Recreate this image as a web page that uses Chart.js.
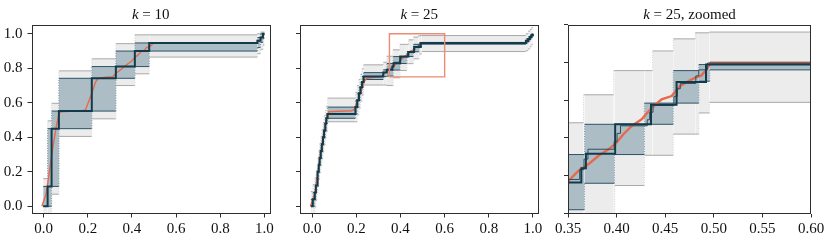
<!DOCTYPE html>
<html>
<head>
<meta charset="utf-8">
<script src="https://cdn.jsdelivr.net/npm/chart.js@4/dist/chart.umd.min.js"></script>
<style>
  html, body { margin: 0; padding: 0; background: #ffffff; }
  #wrap { position: relative; width: 830px; height: 242px; }
  canvas { position: absolute; left: 0; top: 0; }
</style>
</head>
<body>
<div id="wrap">
  <canvas id="c1" width="830" height="242"></canvas>
  <canvas id="c2" width="830" height="242"></canvas>
  <canvas id="c3" width="830" height="242"></canvas>
</div>
<script>
// ---------------- data ----------------
const panelTitles = ['k = 10', 'k = 25', 'k = 25, zoomed'];
const xTicksMain = [0, 0.2, 0.4, 0.6, 0.8, 1.0];
const yTicksMain = [0, 0.2, 0.4, 0.6, 0.8, 1.0];
const xTicksZoom = [0.35, 0.40, 0.45, 0.50, 0.55, 0.60];
const yTicksZoom = [0.75, 0.80, 0.85, 0.90, 0.95, 1.00];

// empirical CDF (red line)
const cdfX = [-0.008, 0.012, 0.027, 0.042, 0.057, 0.068, 0.076, 0.12, 0.178, 0.19,
  0.201, 0.221, 0.235, 0.246, 0.28, 0.314, 0.327, 0.3507, 0.3609, 0.3712,
  0.3814, 0.3917, 0.3985, 0.407, 0.4156, 0.4258, 0.4361, 0.4463, 0.4566, 0.4651,
  0.4736, 0.4805, 0.4873, 0.4924, 0.4969, 0.965, 0.975, 0.985, 0.993, 1.0];
const cdfY = [0, 0.074, 0.209, 0.345, 0.461, 0.53, 0.548, 0.551, 0.554, 0.56,
  0.597, 0.665, 0.72, 0.742, 0.748, 0.752, 0.771, 0.7934, 0.8066, 0.8154,
  0.8263, 0.8351, 0.8417, 0.8548, 0.8658, 0.8746, 0.8899, 0.9009, 0.9053, 0.9184,
  0.925, 0.9294, 0.9325, 0.9404, 0.9491, 0.9491, 0.958, 0.972, 0.986, 1.0];

// k = 10 : step estimate, inner band, outer band (all share k10StepX)
const k10StepX   = [-0.002, 0.018, 0.036, 0.069, 0.218, 0.327, 0.413, 0.478, 0.968, 0.982, 0.993];
const k10StepY   = [0, 0.115, 0.45, 0.552, 0.742, 0.81, 0.90, 0.947, 0.96, 0.978, 1.0];
const k10BandLo  = [0, 0, 0.115, 0.45, 0.552, 0.742, 0.81, 0.90, 0.92, 0.95, 0.975];
const k10BandHi  = [0.115, 0.45, 0.552, 0.742, 0.81, 0.90, 0.947, 0.947, 0.978, 1.0, 1.0];
const k10LightLo = [-0.045, -0.045, 0.07, 0.405, 0.507, 0.70, 0.768, 0.865, 0.885, 0.91, 0.935];
const k10LightHi = [0.16, 0.495, 0.597, 0.785, 0.855, 0.943, 0.994, 0.994, 1.0, 1.01, 1.01];

// k = 25 : step estimate
const k25StepX = [-0.006, 0.003, 0.012, 0.017, 0.022, 0.026, 0.03, 0.034, 0.039, 0.044,
  0.049, 0.054, 0.06, 0.064, 0.07, 0.196, 0.204, 0.212, 0.219, 0.226,
  0.233, 0.322, 0.338, 0.3637, 0.3684, 0.3985, 0.4354, 0.4617, 0.492, 0.968,
  0.978, 0.986, 0.993, 0.999];
const k25StepY = [0, 0.04, 0.08, 0.12, 0.16, 0.2, 0.24, 0.28, 0.32, 0.36,
  0.4, 0.44, 0.48, 0.51, 0.535, 0.575, 0.615, 0.655, 0.69, 0.72,
  0.752, 0.775, 0.791, 0.81, 0.829, 0.868, 0.894, 0.924, 0.947, 0.958,
  0.97, 0.982, 0.992, 1.0];
// k = 25 : finer step estimate (thin line, visible in the zoomed panel)
const k25FineX = [0.338, 0.362, 0.3665, 0.3705, 0.3975, 0.4005, 0.404, 0.4315, 0.434, 0.4375,
  0.459, 0.4625, 0.4655, 0.4815, 0.4845, 0.4935];
const k25FineY = [0.795, 0.808, 0.822, 0.835, 0.845, 0.856, 0.866, 0.874, 0.884, 0.893,
  0.905, 0.915, 0.922, 0.932, 0.94, 0.949];
// k = 25 : inner band
const k25BandX = [-0.006, 0.003, 0.012, 0.017, 0.022, 0.026, 0.03, 0.034, 0.039, 0.044,
  0.049, 0.054, 0.06, 0.064, 0.07, 0.196, 0.204, 0.212, 0.219, 0.226,
  0.233, 0.322, 0.338, 0.367, 0.3978, 0.4286, 0.4583, 0.4846, 0.4958, 0.968,
  0.978, 0.986, 0.993, 0.999];
const k25BandLo = [0, 0, 0.04, 0.08, 0.12, 0.16, 0.2, 0.24, 0.28, 0.32,
  0.36, 0.4, 0.44, 0.48, 0.51, 0.535, 0.575, 0.615, 0.655, 0.69,
  0.735, 0.752, 0.755, 0.79, 0.828, 0.868, 0.896, 0.925, 0.94, 0.947,
  0.958, 0.97, 0.982, 0.992];
const k25BandHi = [0.04, 0.08, 0.12, 0.16, 0.2, 0.24, 0.28, 0.32, 0.36, 0.4,
  0.44, 0.48, 0.51, 0.535, 0.575, 0.615, 0.655, 0.69, 0.72, 0.752,
  0.775, 0.791, 0.828, 0.868, 0.868, 0.896, 0.939, 0.947, 0.95, 0.97,
  0.982, 0.992, 1.0, 1.0];
// k = 25 : outer band
const k25LightX = [-0.006, 0.003, 0.012, 0.017, 0.022, 0.026, 0.03, 0.034, 0.039, 0.044,
  0.049, 0.054, 0.06, 0.064, 0.07, 0.196, 0.204, 0.212, 0.219, 0.226,
  0.233, 0.322, 0.338, 0.366, 0.367, 0.397, 0.398, 0.4286, 0.437, 0.4583,
  0.481, 0.4846, 0.4955, 0.968, 0.978, 0.986, 0.993, 0.999];
const k25LightLo = [-0.045, -0.045, -0.005, 0.035, 0.075, 0.115, 0.155, 0.195, 0.235, 0.275,
  0.315, 0.355, 0.395, 0.435, 0.49, 0.49, 0.53, 0.57, 0.61, 0.645,
  0.703, 0.703, 0.70, 0.70, 0.745, 0.745, 0.787, 0.827, 0.827, 0.855,
  0.855, 0.883, 0.897, 0.902, 0.913, 0.925, 0.937, 0.947];
const k25LightHi = [0.085, 0.125, 0.165, 0.205, 0.245, 0.285, 0.325, 0.365, 0.405, 0.445,
  0.485, 0.525, 0.555, 0.58, 0.627, 0.66, 0.70, 0.735, 0.765, 0.797,
  0.82, 0.835, 0.870, 0.907, 0.907, 0.939, 0.939, 0.939, 0.965, 0.981,
  0.989, 0.989, 0.990, 1.0, 1.015, 1.025, 1.035, 1.045];

// zoom window drawn on the k = 25 panel
const zoomBoxX = [0.35, 0.60];
const zoomBoxY = [0.75, 1.00];

// ---------------- helpers ----------------
const X_END = 1.0;
function stepPts(xs, ys, xEnd) {
  const pts = [];
  for (let i = 0; i < xs.length; i++) {
    if (i > 0) pts.push({x: xs[i], y: ys[i - 1]});
    pts.push({x: xs[i], y: ys[i]});
  }
  pts.push({x: xEnd, y: ys[ys.length - 1]});
  return pts;
}
function linePts(xs, ys) { return xs.map((x, i) => ({x: x, y: ys[i]})); }
function boxPts(bx, by) {
  return [{x: bx[0], y: by[0]}, {x: bx[1], y: by[0]}, {x: bx[1], y: by[1]},
          {x: bx[0], y: by[1]}, {x: bx[0], y: by[0]}];
}
const isVert = c => c.p0.parsed.x === c.p1.parsed.x;

const C = {
  lightFill: '#ececec', lightEdge: '#a9a9a9', lightVert: '#d2d2d2',
  bandFill: '#adbdc6', bandEdge: '#2c5366', bandVert: '#7a97a3',
  step: '#133a4a', fine: '#2a5060', red: '#e8684a', box: '#ee8b74', frame: '#2e2e2e', text: '#111111'
};
const SERIF = '"Liberation Serif", "DejaVu Serif", serif';

function bandSets(x, lo, hi, fillCol, edge, vert, orderBase) {
  const seg = { borderColor: c => isVert(c) ? vert : undefined,
                borderDash: c => isVert(c) ? [1, 1.5] : undefined };
  return [
    { data: stepPts(x, lo, X_END), fill: '+1', backgroundColor: fillCol, borderColor: edge,
      borderWidth: 1, order: orderBase + 1, segment: seg },
    { data: stepPts(x, hi, X_END), fill: false, borderColor: edge,
      borderWidth: 1, order: orderBase, segment: seg }
  ];
}

const framePlugin = {
  id: 'frameTitle',
  afterDatasetsDraw(chart, args, opts) {
    const ctx = chart.ctx, a = chart.chartArea;
    ctx.save();
    ctx.strokeStyle = C.frame; ctx.lineWidth = 1;
    ctx.strokeRect(Math.round(a.left) + 0.5, Math.round(a.top) + 0.5,
                   Math.round(a.right - a.left) - 1, Math.round(a.bottom - a.top) - 1);
    // title with math-italic k
    const t = opts.text || '';
    const first = t.charAt(0), rest = t.slice(1);
    const fItal = 'italic 15px ' + SERIF;
    const fNorm = '15px ' + SERIF;
    ctx.font = fItal; const w1 = ctx.measureText(first).width;
    ctx.font = fNorm; const w2 = ctx.measureText(rest).width;
    const cx = (a.left + a.right) / 2;
    const x0 = cx - (w1 + w2) / 2;
    ctx.fillStyle = C.text; ctx.textBaseline = 'alphabetic'; ctx.textAlign = 'left';
    ctx.font = fItal; ctx.fillText(first, x0, 18.5);
    ctx.font = fNorm; ctx.fillText(rest, x0 + w1, 18.5);
    ctx.restore();
  }
};

function makeChart(cfg) {
  const tickFont = { family: SERIF, size: 15 };
  const YW = 30, XH = 26;
  const datasets = [];
  datasets.push(...bandSets(cfg.lightX, cfg.lightLo, cfg.lightHi, C.lightFill, C.lightEdge, C.lightVert, 20));
  datasets.push(...bandSets(cfg.bandX, cfg.bandLo, cfg.bandHi, C.bandFill, C.bandEdge, C.bandVert, 10));
  datasets.push({ data: linePts(cdfX, cdfY), borderColor: C.red, borderWidth: cfg.redW, fill: false, order: 5 });
  if (cfg.fineX) {
    datasets.push({ data: stepPts(cfg.fineX, cfg.fineY, zoomBoxX[1]), borderColor: C.fine, borderWidth: 1,
                    fill: false, order: 4 });
  }
  datasets.push({ data: stepPts(cfg.stepX, cfg.stepY, X_END), borderColor: C.step, borderWidth: 2,
                  fill: false, order: 3, borderJoinStyle: 'miter' });
  if (cfg.box) {
    datasets.push({ data: boxPts(zoomBoxX, zoomBoxY), borderColor: C.box, borderWidth: 1.4,
                    fill: false, order: 1 });
  }
  return new Chart(document.getElementById(cfg.id), {
    type: 'line',
    data: { datasets: datasets },
    plugins: [framePlugin],
    options: {
      responsive: false, animation: false, devicePixelRatio: 1,
      elements: { point: { radius: 0, hoverRadius: 0 }, line: { tension: 0, capBezierPoints: false } },
      layout: { padding: { left: cfg.left - YW, right: 830 - cfg.right, top: 24.5, bottom: 242 - 213.5 - XH } },
      plugins: { legend: { display: false }, tooltip: { enabled: false }, title: { display: false },
                 frameTitle: { text: cfg.title } },
      events: [],
      scales: {
        x: {
          type: 'linear', min: cfg.xMin, max: cfg.xMax,
          afterFit: s => { s.height = XH; },
          afterBuildTicks: s => { s.ticks = cfg.xt.map(v => ({ value: v })); },
          border: { display: false },
          grid: { display: true, drawOnChartArea: false, drawTicks: true, tickLength: 4, color: C.frame, lineWidth: 1 },
          ticks: { autoSkip: false, maxRotation: 0, padding: 3, color: C.text, font: tickFont,
                   callback: v => v.toFixed(cfg.dec) }
        },
        y: {
          type: 'linear', min: cfg.yMin, max: cfg.yMax,
          afterFit: s => { s.width = YW; },
          afterBuildTicks: s => { s.ticks = cfg.yt.map(v => ({ value: v })); },
          border: { display: false },
          grid: { display: true, drawOnChartArea: false, drawTicks: true, tickLength: 4, color: C.frame, lineWidth: 1 },
          ticks: { display: cfg.showY, autoSkip: false, padding: 5, color: C.text, font: tickFont,
                   callback: v => v.toFixed(1) }
        }
      }
    }
  });
}

makeChart({ id: 'c1', title: panelTitles[0], left: 31.5, right: 270, xMin: -0.055, xMax: 1.025,
  yMin: -0.042, yMax: 1.054, xt: xTicksMain, yt: yTicksMain, dec: 1, showY: true, redW: 1.4,
  stepX: k10StepX, stepY: k10StepY, bandX: k10StepX, bandLo: k10BandLo, bandHi: k10BandHi,
  lightX: k10StepX, lightLo: k10LightLo, lightHi: k10LightHi, box: false });

makeChart({ id: 'c2', title: panelTitles[1], left: 300, right: 538.5, xMin: -0.055, xMax: 1.025,
  yMin: -0.042, yMax: 1.054, xt: xTicksMain, yt: yTicksMain, dec: 1, showY: false, redW: 1.4,
  stepX: k25StepX, stepY: k25StepY, bandX: k25BandX, bandLo: k25BandLo, bandHi: k25BandHi,
  lightX: k25LightX, lightLo: k25LightLo, lightHi: k25LightHi, fineX: k25FineX, fineY: k25FineY, box: true });

makeChart({ id: 'c3', title: panelTitles[2], left: 568, right: 811, xMin: zoomBoxX[0], xMax: zoomBoxX[1],
  yMin: zoomBoxY[0], yMax: zoomBoxY[1], xt: xTicksZoom, yt: yTicksZoom, dec: 2, showY: false, redW: 2.4,
  stepX: k25StepX, stepY: k25StepY, bandX: k25BandX, bandLo: k25BandLo, bandHi: k25BandHi,
  lightX: k25LightX, lightLo: k25LightLo, lightHi: k25LightHi, fineX: k25FineX, fineY: k25FineY, box: false });
</script>
</body>
</html>
